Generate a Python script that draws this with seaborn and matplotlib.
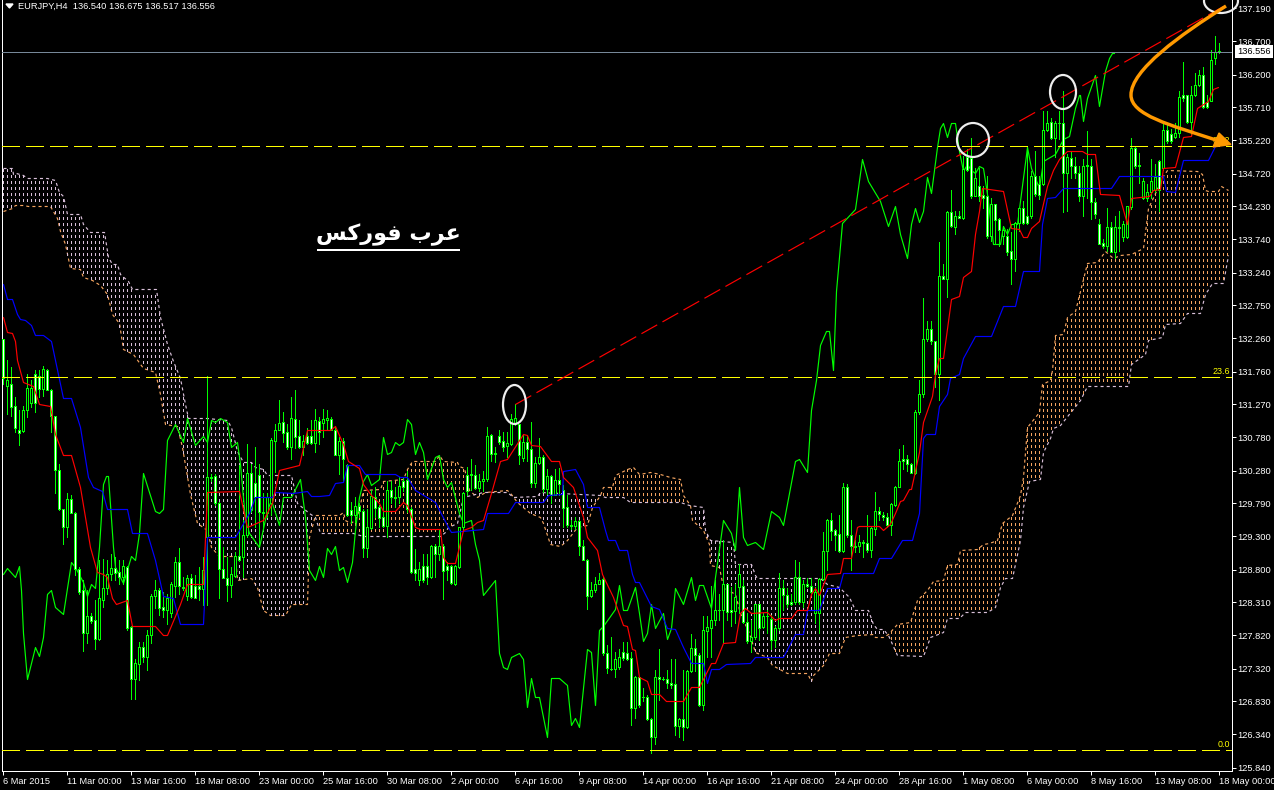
import numpy as np
import matplotlib
matplotlib.use("Agg")
import matplotlib.pyplot as plt
from matplotlib.path import Path
from matplotlib.patches import PathPatch, Polygon, Ellipse
from matplotlib.transforms import Affine2D
import seaborn as sns

# ---------- candles: (open, high, low, close), one list per stretch of the chart
bars_march = [
(132.25,132.25,131.58,131.66),(131.55,131.93,131.13,131.63),(131.57,131.83,131.10,131.23),(131.24,131.38,130.86,130.92),
(130.88,131.18,130.66,130.84),(130.87,131.25,130.86,131.19),(131.18,131.73,131.08,131.51),(131.29,131.63,131.23,131.51),
(131.72,131.78,131.15,131.29),(131.70,131.78,131.38,131.50),(131.50,131.84,131.40,131.80),(131.78,131.80,131.48,131.49),
(131.49,131.50,130.86,131.09),(131.09,131.10,129.94,130.29),(130.29,130.38,129.69,129.71),(129.70,129.71,129.18,129.43),
(129.43,129.94,129.29,129.86),(129.86,129.91,129.64,129.65),(129.65,129.66,128.72,128.81),(128.81,128.84,128.44,128.47),
(128.49,128.64,127.59,127.85),(127.85,128.49,127.70,128.11),(128.11,128.15,128.00,128.03),(128.05,128.34,127.62,127.77),
(127.77,128.94,127.75,128.37),(128.35,128.96,128.24,128.53),(128.53,128.94,128.44,128.74),(128.73,129.04,128.64,128.83),
(128.83,128.99,128.64,128.75),(128.76,128.94,128.59,128.69),(128.69,128.94,128.59,128.85),(128.84,128.86,127.90,127.93),
(127.94,127.95,126.87,127.17),(127.17,127.47,126.87,127.40),(127.39,127.72,127.15,127.64),(127.64,127.72,127.42,127.50),
(127.50,127.90,127.30,127.83),(127.83,128.44,127.70,128.41),(128.40,128.64,128.22,128.50),(128.50,128.52,128.12,128.23),
(128.24,128.47,128.09,128.19),(128.19,128.44,127.99,128.37),(128.15,128.62,128.09,128.58),(128.56,128.99,128.39,128.92),
(128.92,129.13,128.44,128.55),(128.54,128.69,128.49,128.53),(128.41,128.72,128.34,128.67),(128.67,128.74,128.37,128.39),
(128.56,128.72,128.37,128.38),(128.56,128.84,128.34,128.51),(128.51,128.99,128.27,128.79),(129.29,131.70,128.27,130.19),
(130.17,130.23,130.13,130.19),(130.20,130.23,129.76,129.79),(129.79,129.81,128.37,128.81),(128.81,129.14,128.67,128.68),
(128.68,128.99,128.33,128.57),(128.57,128.84,128.39,128.73),(128.71,129.07,128.69,129.00),(129.01,130.36,128.93,128.94),
(128.99,129.54,128.69,129.31),(129.31,130.68,129.29,130.25),(130.24,130.38,129.66,129.69),(130.10,130.63,129.44,129.88),
(130.22,130.38,129.14,129.66),(129.66,129.94,129.44,129.65),(129.64,129.94,129.59,129.89),(129.79,130.76,129.61,130.73),
(130.72,130.98,130.26,130.89),(130.89,131.33,130.88,130.99),(131.00,131.15,130.71,130.84),(130.85,130.98,130.61,130.64),
(130.64,131.38,130.46,131.07),(131.05,131.48,130.62,130.78),(130.79,131.04,130.62,130.64),(130.64,130.81,130.51,130.72),
(130.79,130.91,130.68,130.70),(130.79,131.03,130.68,130.69),(130.69,131.20,130.56,131.03),(131.02,131.08,130.68,130.86),
]
bars_april_a = [
(130.99,131.20,130.78,131.05),(131.03,131.19,130.88,131.06),(131.05,131.08,130.88,130.89),(130.89,130.94,130.51,130.52),
(130.52,130.78,130.23,130.72),(130.72,130.76,130.13,130.45),(130.37,130.38,129.60,129.61),(129.69,129.81,129.49,129.61),
(129.61,129.89,129.51,129.75),(129.75,129.79,129.59,129.67),(129.68,129.71,128.99,129.13),(129.13,129.71,128.99,129.43),
(129.42,129.99,129.41,129.90),(129.89,130.03,129.59,129.72),(129.74,129.76,129.44,129.57),(129.58,129.84,129.44,129.45),
(129.45,130.13,129.29,129.99),(129.99,130.13,129.79,129.88),(129.88,130.03,129.74,129.87),(129.88,130.18,129.79,130.05),
(130.13,130.18,129.98,130.04),(130.14,130.28,129.66,129.70),(129.70,129.74,128.75,128.77),(128.81,129.11,128.64,128.75),
(128.64,128.91,128.57,128.81),(128.86,129.04,128.62,128.64),(128.86,129.04,128.59,128.69),(128.69,129.17,128.67,129.15),
(129.15,129.19,128.69,129.04),(129.04,129.39,128.94,129.16),(129.16,129.19,128.36,128.78),(128.85,128.91,128.64,128.80),
(128.85,128.87,128.59,128.60),(128.59,128.87,128.57,128.85),(128.84,129.44,128.82,129.43),(129.44,129.96,129.41,129.95),
(130.21,130.33,129.91,129.97),(130.23,130.46,129.99,130.21),(130.22,130.36,130.01,130.02),(130.02,130.23,129.98,130.13),
(130.12,130.28,129.98,130.15),(130.15,130.93,130.13,130.80),(130.81,130.83,130.43,130.53),(130.55,130.63,130.41,130.53),
(130.79,130.88,130.68,130.71),(130.72,130.86,130.58,130.64),(130.65,130.86,130.48,130.70),(130.68,131.13,130.67,131.05),
(130.98,131.28,130.96,131.06),(130.97,130.98,130.38,130.51),(130.47,130.81,130.43,130.71),(130.71,130.81,130.43,130.61),
(130.61,131.00,130.03,130.09),(130.09,130.48,130.04,130.40),(130.39,130.77,130.38,130.48),(130.48,130.51,129.96,130.00),
(130.00,130.31,129.93,130.20),(130.20,130.21,129.79,129.92),(129.92,130.31,129.91,130.14),(130.14,130.32,129.92,130.08),
(129.99,130.06,129.44,129.72),(129.73,129.91,129.44,129.47),(129.46,129.54,129.41,129.45),(129.45,129.59,129.41,129.53),
(129.52,129.54,129.02,129.16),(129.16,129.25,128.94,128.95),(128.95,128.96,128.21,128.41),(128.41,128.62,128.39,128.50),
(128.50,128.69,128.47,128.58),(128.58,128.75,128.59,128.65),(128.66,128.69,127.52,127.55),(127.55,127.67,127.25,127.33),
(127.32,127.80,127.30,127.31),(127.31,127.57,127.20,127.47),(127.35,127.62,127.32,127.49),(127.57,127.72,127.45,127.48),
(127.56,127.72,127.45,127.47),(127.48,127.57,126.48,126.73),(126.73,127.21,126.58,127.19),(127.19,127.20,126.75,126.78),
]
bars_april_b = [
(126.90,127.03,126.83,126.89),(126.90,126.93,126.55,126.56),(126.57,126.58,126.06,126.30),(126.30,127.30,126.20,127.19),
(127.19,127.61,126.85,127.17),(127.17,127.20,127.15,127.17),(127.17,127.30,127.03,127.10),(127.11,127.46,127.03,127.08),
(127.09,127.46,126.33,126.47),(126.46,126.58,126.30,126.57),(126.57,127.30,126.25,126.45),(126.45,127.30,126.43,127.28),
(127.28,127.84,127.27,127.63),(127.63,127.77,127.29,127.52),(127.52,127.55,126.76,126.78),(126.78,128.10,126.70,127.90),
(127.89,128.10,127.50,127.94),(127.93,128.55,127.50,128.04),(128.04,128.64,127.97,128.20),(128.20,128.44,128.05,128.19),
(128.19,129.24,127.72,128.58),(128.58,128.59,128.05,128.17),(128.19,128.54,127.95,128.17),(128.18,128.59,128.00,128.39),
(128.54,128.88,128.15,128.73),(128.55,128.64,128.00,128.01),(128.01,128.15,127.70,127.73),(127.73,128.05,127.57,127.80),
(127.80,128.29,127.77,128.28),(128.28,128.29,127.75,127.92),(127.94,128.15,127.92,128.11),(128.11,128.19,127.85,128.11),
(128.06,128.12,127.62,127.75),(127.75,127.95,127.65,127.92),(127.92,128.75,127.90,128.53),(128.53,128.64,128.19,128.42),
(128.42,128.52,128.24,128.29),(128.32,128.44,128.27,128.29),(128.31,128.94,128.29,128.69),(128.69,128.91,128.29,128.31),
(128.31,128.64,128.24,128.58),(128.58,128.67,128.54,128.55),(128.56,128.67,128.44,128.47),(128.15,128.54,128.00,128.47),
(128.15,128.67,127.85,128.66),(128.66,129.36,128.64,129.08),(129.08,129.55,128.79,129.54),(129.54,129.64,129.24,129.38),
(129.39,129.41,129.09,129.32),(129.33,129.61,129.07,129.08),(129.08,130.09,129.07,130.03),(130.03,130.08,129.29,129.31),
(129.31,129.54,128.79,129.15),(129.16,129.24,129.07,129.14),(129.15,129.31,129.07,129.22),(129.21,129.24,128.99,129.20),
(129.20,129.61,129.07,129.10),(129.10,129.44,128.99,129.42),(129.41,129.96,129.31,129.68),(129.68,129.74,129.54,129.63),
(129.62,129.66,129.54,129.58),(129.58,129.64,129.44,129.47),(129.47,129.79,129.31,129.78),(129.77,130.05,129.75,130.04),
(130.04,130.61,130.04,130.43),(130.45,130.66,130.31,130.42),(130.45,130.51,130.28,130.38),(130.38,130.39,130.24,130.25),
(130.25,131.19,130.23,131.15),(131.15,131.63,131.13,131.43),
]
bars_may = [
(131.43,132.86,131.38,132.25),(132.25,132.52,132.22,132.40),(132.40,132.52,132.17,132.21),(132.21,132.22,131.53,131.73),
(131.72,133.69,131.33,133.19),(133.19,133.37,133.14,133.14),(133.14,134.16,132.87,134.14),(134.14,134.47,133.92,133.94),
(133.92,134.16,133.81,134.08),(134.08,134.16,134.05,134.05),(134.05,134.98,134.04,134.79),(134.96,135.08,134.76,134.78),
(134.95,135.25,134.36,134.39),(134.39,134.81,134.39,134.65),(134.53,134.81,134.31,134.39),(134.40,134.53,134.21,134.36),
(134.39,134.68,133.76,133.79),(133.79,134.36,133.71,134.26),(134.26,134.26,133.66,134.03),(134.04,134.06,133.64,133.87),
(133.79,133.94,133.66,133.87),(133.79,133.89,133.51,133.54),(133.56,133.84,133.07,133.45),(133.45,133.99,133.27,133.98),
(133.98,134.21,133.86,134.21),(134.21,134.31,133.96,133.98),(134.09,135.11,133.96,133.98),(134.08,134.76,134.06,134.68),
(134.68,135.06,134.39,134.41),(134.56,134.68,134.34,134.40),(134.56,135.65,134.55,135.37),(135.37,135.65,135.36,135.48),
(135.49,135.55,135.23,135.25),(135.25,135.50,134.96,135.47),(135.47,135.65,135.23,135.47),(135.47,135.95,134.14,134.73),
(134.73,135.01,134.16,134.96),(134.95,135.06,134.66,134.84),(134.84,134.96,134.66,134.73),(134.73,134.83,134.31,134.39),
(134.39,134.93,134.09,134.84),(134.85,135.36,134.36,134.84),(134.84,134.93,134.04,134.29),(134.29,134.36,134.06,134.11),
(133.96,134.04,133.66,133.67),(133.68,133.74,133.61,133.63),(133.63,134.20,133.56,133.92),(133.92,133.99,133.54,133.55),
(133.55,134.09,133.46,133.92),(133.92,134.16,133.56,133.91),(133.77,134.01,133.71,133.96),(133.77,134.23,133.76,134.23),
(134.22,135.25,134.19,135.10),(135.10,135.13,134.81,134.83),(134.85,135.03,134.58,134.83),(134.36,134.66,134.34,134.61),
(134.36,134.56,134.31,134.45),(134.45,134.93,134.36,134.61),(134.47,134.86,134.44,134.67),(134.91,134.92,134.16,134.47),
(134.81,135.47,134.78,135.37),(135.37,135.45,135.18,135.21),(135.31,135.38,135.18,135.21),
(135.26,135.48,135.25,135.33),(135.33,135.95,135.26,135.87),(135.89,136.39,135.80,135.85),(135.89,135.90,135.48,135.49),
(135.49,136.03,135.28,135.89),(135.89,136.22,135.88,136.05),(136.04,136.27,136.03,136.19),(136.19,136.32,135.70,135.72),
(135.79,135.90,135.70,135.72),(135.81,136.57,135.80,136.42),(136.44,136.77,136.35,136.53),(136.54,136.675,136.517,136.556),
]

# ---------- Ichimoku lines, as (bar number, price) turning points
chikou_bars = [0,1,3,4,4.5,5,6,8,9,10,11,12,13,15,17,18,20,21,22,23,24,25,25.7,26.2,27.5,28,30,32,33,34,35,38,39,40,41,43,45,46,48,50,51,52,53,54.2,55.8,57,58.3,59.2,60.4,61.3,64,65.8,67,69,70,72,74.2,75.4,76.3,78,79,
80,81,82,83,84,85,86,87.2,88,89,90,91,92,94,95,96,97,98,99,100,101,102,103,104,105,106,108,109,110,111,112,114,115,117,118,119,120,123,124,125,126,127,129,130,131,132,133,134,136,137,139,141,142,143,144,146,147,148,149,150,153,154,155,156,158,159,
160,161,162,163,165,166,167,168,170,172,173,174,175,177,178,180,182,183,184,185,186,188,190,192,194,195,198,199,201,202,203.2,204.2,205.7,206.4,207.4,208.2,209.7,213,214.7,216.2,219.2,221.2,223,
224.2,226,227,228,229,230,231,232,233.3,234.2,235,236,237,238,238.8,240,241,242,243,244,245,246,247.5,249.2,250,251,252,253.5,255.8,257,259,260,262.9,265,266.3,267.9,268.8,269.2,270,271,272.9,274,275.4,276.3,277.1,277.7]
chikou = [128.74,128.83,128.69,128.85,128.49,127.85,127.17,127.64,127.51,127.80,128.44,128.50,128.24,128.14,128.92,128.84,128.62,128.40,128.58,128.52,129.14,130.08,130.20,130.20,129.14,128.84,128.60,129.01,128.95,129.34,130.24,129.68,129.65,129.71,130.73,130.97,130.71,131.07,130.66,130.79,130.71,131.04,131.00,131.07,131.00,130.63,130.71,130.38,129.54,129.34,129.14,129.69,129.84,129.46,129.89,129.89,130.15,129.59,128.79,128.65,128.85,
128.69,129.12,129.04,129.15,128.79,128.84,128.62,128.91,129.39,129.89,130.13,130.23,130.06,130.16,130.78,130.53,130.56,130.71,130.66,130.71,131.05,130.98,130.53,130.71,130.56,130.16,130.48,130.51,130.16,130.03,130.11,129.64,129.49,129.54,129.19,128.94,128.42,128.65,127.55,127.35,127.31,127.49,127.56,127.47,126.75,127.18,126.90,126.89,126.30,127.18,127.18,127.07,126.48,126.58,126.45,127.62,127.57,126.78,127.90,127.95,128.21,128.57,128.20,128.19,128.54,128.15,
127.74,127.85,128.29,127.92,128.15,127.77,127.92,128.53,128.29,128.69,128.34,128.57,128.57,128.22,128.69,129.54,129.34,129.09,130.03,129.29,129.17,129.21,129.11,129.68,129.59,129.46,130.43,130.46,130.26,131.18,131.63,132.15,132.37,132.37,131.78,132.97,133.98,134.19,134.94,134.61,134.31,133.94,134.24,
133.82,133.46,133.96,134.21,134.00,134.16,134.67,134.43,135.11,135.40,135.48,135.26,135.48,135.48,135.06,134.76,134.86,134.78,134.73,134.83,134.81,134.41,133.66,133.66,133.94,133.81,133.96,133.96,135.11,134.81,134.51,134.91,135.01,135.23,135.28,135.70,135.89,135.89,135.50,135.85,136.19,135.73,136.25,136.45,136.52,136.52]

tenkan_bars = [0,1,2.2,3,3.5,5,7.5,8.8,11.7,12.9,15,17,19.2,21.7,23.3,25,25.8,27.1,28.2,31,32.1,37.9,40,41,44.2,46,50,51,59,61,65,67.1,69,74,75.8,79,
81.7,83,85,86.2,89,90,92,93.8,95,98,100,101,102.9,104.2,109.2,110,111,113,115,117,118.3,120,122,124.2,126,130,131,132,134.2,137,139,140,142.5,145,145.8,148.3,149.6,152.5,155,156,157.1,158,159,
161,162,164,165.7,170,172,174,176.3,177,178,180,182.9,184.2,185.3,187,191,193,194,197,198.3,201,202,203,204,206,209.2,210,212,213.3,214,219,220,221.7,223,224.2,225,226.3,227,228.8,230,232.1,233,
234,235,236.2,237,239,240,241.8,242.9,244,244.7,250,252,253.8,255,256,257,259,260.8,262.5,264,265.8,269.6,271,273,274.2,278.8,281,282,286.3,287.5,289.2,290,292.9,295,297,298.5,301.2,302.5,303.7]
tenkan = [132.57,132.35,132.33,132.22,131.93,131.60,131.55,131.28,131.25,130.83,130.52,130.51,130.03,129.14,128.77,128.74,128.69,128.37,128.29,128.34,127.96,127.96,127.82,127.82,128.29,128.59,128.59,129.96,129.97,129.44,129.54,129.79,130.29,130.37,130.89,130.89,
130.88,130.94,130.68,130.43,130.32,130.08,129.91,129.79,129.68,129.68,129.81,129.76,129.44,129.40,129.40,128.99,128.90,128.90,129.39,129.44,129.51,129.54,129.94,130.43,130.46,130.82,130.81,130.66,130.65,130.43,130.43,130.18,130.03,129.59,129.29,129.09,128.74,128.39,127.97,127.96,127.62,127.60,127.20,
127.13,126.94,126.94,126.83,126.83,127.04,127.04,127.35,127.40,127.40,127.70,127.72,128.15,128.23,128.15,128.16,128.05,128.08,128.08,128.19,128.19,128.44,128.52,128.42,128.74,128.75,128.97,128.97,129.44,129.45,129.45,129.39,129.48,129.64,129.83,129.84,130.01,130.01,130.56,131.00,131.40,131.72,
131.97,131.97,132.52,132.84,132.89,133.17,133.26,133.81,134.16,134.50,134.46,133.91,133.89,133.77,133.77,133.91,134.01,134.53,134.78,134.93,135.06,135.05,135.01,135.01,134.41,134.40,133.96,134.35,134.39,134.47,134.49,134.81,134.82,135.27,135.28,135.70,135.80,135.99,136.02]

kijun_bars = [0,1,2.1,3.3,4.2,5.4,7,7.9,10,12,12.9,15,17,19.2,21.2,22.5,24.6,26,31,32.1,36,37.9,40,42.5,44.2,50,51,57.9,61.3,62.9,67.1,68,72.5,75.8,76.8,79,
81.3,83,85,86,89,90.4,98,99.2,101,102.9,107.9,111.2,112,120,120.8,126.2,127.9,135,136.2,139.6,140,143,145,146,149,150.4,151.2,152.9,154,156,157.1,158,159,
162,164,165.8,168,170,172,175,176,177,179,180.7,186.7,188,195,198,200,201,204,206,209,210,217.5,219,222,224.6,227.1,228.8,230,230.7,233,233.8,235.8,
236.7,239,240,242.9,247,250,252.9,255,259,259.6,260.8,262.9,265,277,278.8,289.9,290.7,292.9,295,301.2,302.9]
kijun = [133.07,132.84,132.84,132.62,132.55,132.53,132.45,132.31,132.31,132.22,131.93,131.37,131.37,130.93,130.18,130.04,129.98,129.71,129.71,129.35,129.35,128.94,128.40,128.37,127.99,127.99,129.29,129.29,129.64,129.88,129.88,129.96,129.95,129.98,129.90,129.90,
129.91,130.10,130.11,130.36,130.36,130.23,130.23,130.18,130.18,129.99,129.81,129.44,129.36,129.41,129.65,129.65,129.81,129.81,129.91,129.93,130.28,130.31,130.08,129.74,129.74,129.39,129.25,129.25,129.10,129.10,128.74,128.62,128.62,
128.25,128.21,127.92,127.91,127.65,127.41,127.41,127.10,127.31,127.31,127.39,127.41,127.50,127.50,127.84,127.84,128.19,128.19,128.53,128.53,128.75,128.75,128.97,128.97,129.25,129.25,129.64,130.76,130.83,130.83,131.25,131.43,
131.67,131.72,131.97,132.29,132.29,132.74,132.74,133.26,133.26,133.96,134.36,134.37,134.51,134.51,134.69,134.69,134.46,134.45,134.92,134.92,135.13]

senkou_a_bars = [0,2.1,2.9,5,6.2,11.7,13.3,14.2,15.4,16.7,19.2,20,22.1,24.2,25.8,27.1,28.8,30,32.5,35,37.9,39.2,40.4,43.3,44.6,46.7,48.3,50.8,52,53.8,57.9,58.3,62,63.3,65,66.7,70.4,72,75.8,76.3,77.9,
83.8,85,85.4,86.7,87.9,89,90,94.2,95,100,101,102.1,107.9,109,110,113.3,114,115.2,116.3,118.3,120.4,125.8,127,128.3,131.7,134.2,135,136.7,139.2,140.8,143.3,145.8,147.1,149.2,150,152.1,152.9,155.8,157.5,159,
161.7,164.2,166.7,169.2,169.8,171.7,172.1,175,176.3,176.7,178.8,180,182.9,184.2,186.3,187.9,190.8,192.1,195.8,200.8,202,202.5,205,206.3,209,210.4,213.3,217.5,217.9,220,221.2,223.3,226.7,228.3,230.8,232.5,235,235.8,238.3,
239.2,243.4,245,246.3,248.4,249.6,252.1,254.2,255,255.9,258.8,259.6,261.7,262.1,263,265,265.8,267.9,270.8,273.3,275.4,277.5,279.2,282,285,286.2,290,290.8,298.3,299.6,300.4,301.2,303.7,304.5,306.2]
senkou_a = [134.16,134.21,134.25,134.25,134.24,134.24,134.06,133.86,133.66,133.31,133.30,133.17,133.13,133.06,132.92,132.62,132.49,132.10,132.02,131.82,131.75,131.43,130.98,130.95,130.63,129.93,129.49,129.39,129.14,129.01,129.01,128.65,128.67,128.54,128.19,128.12,128.12,128.29,128.29,129.29,129.61,
129.62,129.66,129.54,129.49,129.54,129.71,129.99,130.01,130.13,130.16,130.31,130.43,130.43,130.51,130.43,130.41,130.35,130.32,129.99,129.89,129.96,129.99,129.93,129.81,129.64,129.59,129.49,129.19,129.15,129.24,129.44,129.46,129.74,129.91,130.03,130.04,130.21,130.31,130.33,130.23,
130.26,130.23,130.18,130.16,129.91,129.76,129.54,129.39,129.19,128.87,128.84,128.54,128.44,128.15,127.85,127.57,127.50,127.37,127.25,127.25,127.13,127.23,127.37,127.55,127.55,127.80,127.82,127.84,127.80,127.80,127.84,127.99,128.02,128.34,128.49,128.63,128.64,128.87,128.89,
129.09,129.11,129.19,129.20,129.24,129.49,129.61,129.91,130.18,130.93,131.15,131.58,131.63,131.78,132.30,132.32,132.57,132.67,133.39,133.40,133.56,133.46,133.51,133.52,133.61,134.21,134.68,134.78,134.76,134.71,134.48,134.46,134.46,134.53,134.48]

senkou_b_bars = [0,2.1,2.5,3.2,5,5.8,11,12.9,13.8,15,15.8,19.2,20,21.7,25.2,26.2,27.1,28.3,29.2,31.2,32.1,38.2,39.2,40.8,42.5,44.2,45.4,46.2,50.8,55.8,57,58.3,60,62,62.9,65,66,72,72.5,73.3,76.3,77.9,
79.2,87.5,90,109.2,110.4,111.2,113.3,115,120,125.8,127.5,133.3,134.2,149.2,150.4,155,156.7,159,
169.2,171.3,175,175.4,176.7,182.5,182.9,187,187.9,188.3,204.2,205.8,209,211.3,213,216.2,217.5,218.3,220,221.2,223.3,230,231.7,235,235.8,239,
240.5,245.9,248,249.2,250.5,252.1,254.2,255,256.3,259.2,260,261.7,262.5,264.2,269.2,270.8,281.2,282,285.4,286.2,289.6,290.4,294.2,295.8,299.2,300.4,302.1,305,306.2]
senkou_b = [134.80,134.80,134.71,134.73,134.70,134.65,134.65,134.63,134.44,134.39,134.12,134.11,133.96,133.84,133.84,133.47,133.37,133.37,133.22,133.12,132.99,132.99,132.57,132.17,131.92,131.67,131.28,131.07,131.07,131.03,130.93,130.58,130.41,130.41,130.33,130.31,130.21,130.21,130.08,129.79,129.64,129.59,
129.35,129.35,129.30,129.30,129.36,129.44,129.50,129.89,129.96,129.96,129.89,129.90,129.96,129.91,129.88,129.88,129.81,129.81,
129.81,129.76,129.74,129.39,129.24,129.21,128.88,128.88,128.72,128.67,128.67,128.59,128.54,128.39,128.20,128.20,127.99,127.91,127.91,127.82,127.52,127.51,127.80,127.87,128.07,128.07,
128.17,128.17,128.24,128.54,128.67,128.68,129.24,129.74,130.13,130.16,130.56,130.76,130.91,130.96,131.33,131.54,131.55,131.87,132.02,132.23,132.27,132.47,132.49,132.64,132.64,132.92,133.09,133.09,133.51]

# ---------- price levels, trend line, axis labels
fib_levels = [135.135, 131.685, 126.11]
fib_labels = ["38.2", "23.6", "0.0"]
price_line = 136.54
trend_bars = [128, 305]
trend_prices = [131.27, 137.22]
y_ticks = [137.19,136.70,136.20,135.71,135.22,134.72,134.23,133.74,133.24,132.75,132.26,131.76,
           131.27,130.78,130.28,129.79,129.30,128.80,128.31,127.82,127.32,126.83,126.34,125.84]
x_tick_step = 16
x_labels = ["6 Mar 2015","11 Mar 00:00","13 Mar 16:00","18 Mar 08:00","23 Mar 00:00","25 Mar 16:00",
            "30 Mar 08:00","2 Apr 00:00","6 Apr 16:00","9 Apr 08:00","14 Apr 00:00","16 Apr 16:00",
            "21 Apr 08:00","24 Apr 00:00","28 Apr 16:00","1 May 08:00","6 May 00:00","8 May 16:00",
            "13 May 08:00","18 May 00:00"]
title_text = "EURJPY,H4  136.540 136.675 136.517 136.556"
last_price = "136.556"
# visual-order presentation forms, because matplotlib does not shape Arabic
arabic_text = "\uFEB2\uFEDB\uFEAD\uFEEE\uFED3 \uFE8F\uFEAE\uFECB"

# ---------- styling
W, H = 1274, 790
LIME, RED, BLUE = "#00FF00", "#FF0000", "#0000FF"
SANDY, THISTLE = "#F4A460", "#D8BFD8"
YELLOW, ORANGE, SLATE = "#FFFF00", "#FF9900", "#778899"
PX = 0.72  # one pixel, in points

sns.set_theme(style="dark", rc={"figure.facecolor": "black", "axes.facecolor": "black",
                                "savefig.facecolor": "black", "axes.grid": False})
plt.rcParams["font.family"] = ["Liberation Sans", "DejaVu Sans"]

fig = plt.figure(figsize=(W / 100, H / 100), dpi=100)
ax = fig.add_axes([2.2 / W, 19 / H, 1229.3 / W, 771 / H])
ax.set_xlim(-0.275, 307.05)
ax.set_ylim(125.79, 137.314)
pix = Affine2D().scale(1, -1).translate(0, H)  # annotation shapes are placed in picture pixels

thin = dict(linewidth=0.85, estimator=None, sort=False, antialiased=True, snap=True)

# ---------- cloud: dashed edge lines and dotted hatch columns
sns.lineplot(x=senkou_a_bars, y=senkou_a, ax=ax, color=SANDY, linestyle=(0, (2.6, 2.6)), zorder=1, **thin)
sns.lineplot(x=senkou_b_bars, y=senkou_b, ax=ax, color=THISTLE, linestyle=(0, (2.6, 2.6)), zorder=1, **thin)
cols = np.arange(0, 307)
ca = np.interp(cols, senkou_a_bars, senkou_a)
cb = np.interp(cols, senkou_b_bars, senkou_b)
step = 6 / 66.9
dash = 2.0 / 66.9
rows = np.arange(125.79, 137.4, step)
hx, hlo, hhi, hc = [], [], [], []
for x, a, b in zip(cols, ca, cb):
    lo, hi = min(a, b), max(a, b)
    c = SANDY if a > b else THISTLE
    for r in rows[(rows > lo) & (rows + dash < hi)]:
        hx.append(x); hlo.append(r); hhi.append(r + dash); hc.append(c)
ax.vlines(hx, hlo, hhi, colors=hc, linewidth=PX, antialiased=False, zorder=1)

# ---------- chikou under the candles
sns.lineplot(x=chikou_bars, y=chikou, ax=ax, color=LIME, zorder=2, **thin)

# ---------- candles
bars = bars_march + bars_april_a + bars_april_b + bars_may
opens, highs, lows, closes = (np.array(v, dtype=float) for v in zip(*bars))
idx = np.arange(len(opens))
ax.vlines(idx, lows, highs, color=LIME, linewidth=PX, antialiased=False, zorder=3)
ax.bar(idx, np.abs(closes - opens), bottom=np.minimum(opens, closes), width=0.5,
       color=["white" if c < o else "black" for o, c in zip(opens, closes)],
       edgecolor=LIME, linewidth=PX, antialiased=False, zorder=3.5)

# ---------- tenkan and kijun above the candles
sns.lineplot(x=kijun_bars, y=kijun, ax=ax, color=BLUE, zorder=4, **thin)
sns.lineplot(x=tenkan_bars, y=tenkan, ax=ax, color=RED, zorder=4, **thin)

# ---------- levels and trend line
for lvl in fib_levels:
    ax.axhline(lvl, color=YELLOW, linewidth=PX, linestyle=(0, (18, 6)), antialiased=False, zorder=5)
ax.axhline(price_line, color=SLATE, linewidth=PX, antialiased=False, zorder=5)
sns.lineplot(x=trend_bars, y=trend_prices, ax=ax, color=RED, linestyle=(0, (15.3, 5.1)), zorder=5, **thin)
for lvl, lab in zip(fib_levels, fib_labels):
    y_px = (137.314 - lvl) * 66.9
    ax.text(1230, y_px - 5, lab, transform=pix, color=YELLOW, fontsize=6.4, ha="right", va="center", zorder=5)

# ---------- axes
for side in ["left", "right", "bottom"]:
    ax.spines[side].set_color("white")
    ax.spines[side].set_linewidth(PX)
ax.spines["top"].set_visible(False)
ax.yaxis.tick_right()
ax.set_yticks(y_ticks)
ax.set_yticklabels([f"{t:.3f}" for t in y_ticks])
ax.set_xticks(np.arange(len(x_labels)) * x_tick_step)
ax.set_xticklabels(x_labels, ha="left")
ax.tick_params(axis="y", colors="white", length=2.6, width=PX, pad=1.2, labelsize=6.7, right=True)
ax.tick_params(axis="x", colors="white", length=2.6, width=PX, pad=1.6, labelsize=6.7, bottom=True)
ax.set_xlabel("")
ax.set_ylabel("")

# ---------- header, price box, Arabic caption
ax.text(18, 6.5, title_text, transform=pix, color="white", fontsize=6.7, va="center", ha="left", zorder=9)
ax.add_patch(Polygon([(6, 4), (13, 4), (9.5, 8)], closed=True, transform=pix, color="white", zorder=9, clip_on=False))
ax.text(1254, 51.5, last_price, transform=pix, color="black", fontsize=6.7, va="center", ha="center", zorder=9,
        clip_on=False, bbox=dict(boxstyle="square,pad=0.2", facecolor="white", edgecolor="none"))
ax.text(388.5, 235, arabic_text, transform=pix, color="white", fontsize=16, family=["DejaVu Sans"],
        fontweight="bold", ha="center", va="center", zorder=9)
ax.plot([317, 460], [249.5, 249.5], transform=pix, color="white", linewidth=2 * PX, zorder=9, solid_capstyle="butt")

# ---------- hand-drawn circles and orange arrow
for cx, cy, w, h in [(514.5, 404.5, 23, 39), (973, 140, 32, 34), (1063, 92, 26, 34), (1221, 1, 34, 24)]:
    ax.add_patch(Ellipse((cx, cy), w, h, transform=pix, facecolor="none", edgecolor="#EEEEEE",
                         linewidth=2.2 * PX, zorder=8, clip_on=False))
verts = [(1226, 6), (1180, 35), (1131, 70), (1131, 95), (1131, 115), (1170, 125), (1216, 140)]
codes = [Path.MOVETO] + [Path.CURVE4] * 6
ax.add_patch(PathPatch(Path(verts, codes), transform=pix, facecolor="none", edgecolor=ORANGE,
                       linewidth=3.4 * PX, zorder=8, clip_on=False))
ax.add_patch(Polygon([(1219, 133), (1231, 144.5), (1213, 147)], closed=True, transform=pix, color=ORANGE,
                     zorder=8, clip_on=False))

fig.savefig("out.png", dpi=100, facecolor="black")
